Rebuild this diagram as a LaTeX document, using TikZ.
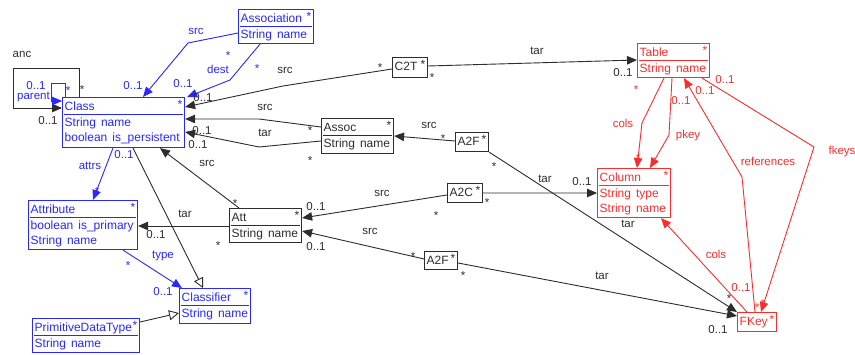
\documentclass[tikz,border=0pt]{standalone}
\usepackage{fontspec}
\setmainfont[WordSpace=1.5]{Liberation Sans}
\usetikzlibrary{arrows.meta,calc}

\definecolor{umlblue}{RGB}{40,40,255}
\definecolor{umlred}{RGB}{250,45,45}
\definecolor{umlink}{RGB}{45,45,45}

\tikzset{
  box/.style={draw=#1, line width=1.1pt, inner sep=0pt, anchor=north west, fill=white},
  txt/.style={inner sep=0pt, anchor=base west, font=\fontsize{12}{14}\selectfont},
  lbl/.style={inner sep=0pt, anchor=base, font=\fontsize{11.5}{14}\selectfont},
  link/.style={line width=0.9pt, draw=#1},
  nav/.style={-{Triangle[length=10pt,width=8.5pt]}},
  gen/.style={-{Triangle[open,length=10pt,width=10pt,fill=white]}},
}

% class with a name compartment and a list of attributes
\newcommand{\umlclass}[8]{%
  \node[box=#2, minimum width=#5pt, minimum height=#6pt] (#1) at (#3,#4) {};
  \node[txt, text=#2] (#1-t) at ($(#1.north west)+(2.5,14)$) {#7};
  \node[txt, text=#2, anchor=base east] (#1-s) at ($(#1.north east)+(-2.5,11.5)$) {*};
  \draw[#2, line width=0.9pt] ($(#1.north west)+(2,17.5)$) -- ($(#1.north east)+(-2,17.5)$);
  \foreach \attr [count=\i] in {#8} {
    \node[txt, text=#2] (#1-a\i) at ($(#1.north west)+(2.5,{15+15*\i})$) {\attr};
  }
}
% class shown with its name only
\newcommand{\umlplain}[7]{%
  \node[box=#2, minimum width=#5pt, minimum height=#6pt] (#1) at (#3,#4) {};
  \node[txt, text=#2] (#1-t) at ($(#1.north west)+(2.5,14)$) {#7};
  \node[txt, text=#2, anchor=base east] (#1-s) at ($(#1.north east)+(-2.5,11.5)$) {*};
}
% role names and multiplicities
\newcommand{\lab}[5]{\node[lbl, text=#2] (#1) at (#3,#4) {#5};}

\begin{document}
\begin{tikzpicture}[x=1pt,y=-1pt]
\useasboundingbox (0,0) rectangle (855,355);
\fill[white] (0,0) rectangle (855,355);

% ---- classes ----
\umlclass{class}{umlblue}{62}{97}{122}{50}{Class}{String name,boolean is\_persistent}
\umlclass{association}{umlblue}{238}{9}{75}{34}{Association}{String name}
\umlclass{attribute}{umlblue}{28}{200}{109}{49}{Attribute}{boolean is\_primary,String name}
\umlclass{classifier}{umlblue}{179}{288}{71}{35}{Classifier}{String name}
\umlclass{pdt}{umlblue}{32}{318}{107}{34}{PrimitiveDataType}{String name}
\umlclass{att}{umlink}{229}{208}{72}{34}{Att}{String name}
\umlclass{assoc}{umlink}{321}{118}{72}{35}{Assoc}{String name}
\umlplain{c2t}{umlink}{392}{57}{35}{20}{C2T}
\umlplain{a2ftop}{umlink}{455}{132}{33}{19}{A2F}
\umlplain{a2c}{umlink}{447}{183}{35}{19}{A2C}
\umlplain{a2fbot}{umlink}{424}{251}{33}{18}{A2F}
\umlclass{table}{umlred}{637}{43}{72}{34}{Table}{String name}
\umlclass{column}{umlred}{597}{168}{73}{49}{Column}{String type,String name}
\umlplain{fkey}{umlred}{737}{312}{39}{19}{FKey}

% ---- self associations of Class ----
\draw[link=umlink, nav] ($(class.north west)+(17,0)$) |- (13,68) |- ($(class.north west)+(0,11)$);
\draw[link=umlblue, nav] ($(class.north west)+(3,0)$) |- (51,83) |- ($(class.north west)+(0,4)$);

% ---- metamodel associations ----
\draw[link=umlblue, nav] ($(association.north west)+(0,24)$) -- (188,43) -- ($(class.north west)+(81,0)$);
\draw[link=umlblue, nav] ($(association.south west)+(22,0)$) -- (230,80) -- ($(class.north east)+(2,0)$);
\draw[link=umlblue, nav] ($(class.south west)+(51,0)$) -- ($(attribute.north west)+(65,0)$);
\draw[link=umlblue, nav] ($(attribute.south west)+(95,0)$) -- ($(classifier.north west)+(3,0)$);
\draw[link=umlink, gen] ($(class.south west)+(71,0)$) -- ($(classifier.north west)+(24,0)$);
\draw[link=umlink, gen] ($(pdt.north east)+(0,4)$) -- ($(classifier.north west)+(0,25)$);

% ---- trace classes ----
\draw[link=umlink, nav] ($(c2t.north west)+(0,12)$) -- (283,86) -- ($(class.north east)+(0,10)$);
\draw[link=umlink, nav] ($(c2t.north east)+(0,9)$) -- ($(table.north west)+(0,17)$);
\draw[link=umlink, nav] ($(assoc.north west)+(0,9)$) -- (259,119) -- ($(class.north east)+(0,22)$);
\draw[link=umlink, nav] ($(assoc.north west)+(0,23)$) -- (259,147) -- ($(class.north east)+(0,35)$);
\draw[link=umlink, nav] ($(a2ftop.north west)+(0,9)$) -- ($(assoc.north east)+(0,18)$);
\draw[link=umlink, nav] (a2ftop.south east) -- (fkey.north west);
\draw[link=umlink, nav] (a2c.east) -- ($(column.north west)+(0,25)$);
\draw[link=umlink, nav] ($(a2c.north west)+(0,12)$) -- ($(att.north east)+(0,10)$);
\draw[link=umlink, nav] ($(a2fbot.north west)+(0,8)$) -- ($(att.north east)+(0,23)$);
\draw[link=umlink, nav] ($(a2fbot.north east)+(0,12)$) -- ($(fkey.north west)+(0,4)$);
\draw[link=umlink, nav] ($(att.north west)+(10,0)$) -- ($(class.south west)+(98,0)$);
\draw[link=umlink, nav] ($(att.north west)+(0,18)$) -- ($(attribute.north east)+(0,26)$);

% ---- relational side ----
\draw[link=umlred, nav] ($(table.south west)+(27,0)$) -- (642,123) -- ($(column.north west)+(40,0)$);
\draw[link=umlred, nav] ($(table.south west)+(35,0)$) -- (669,135) -- ($(column.north west)+(53,0)$);
\draw[link=umlred, nav] ($(fkey.north west)+(18,0)$) -- (742,177) -- ($(table.south west)+(47,0)$);
\draw[link=umlred, nav] ($(table.south west)+(65,0)$) -- (814,147) -- ($(fkey.north west)+(24,0)$);
\draw[link=umlred, nav] ($(fkey.north west)+(10,0)$) -- ($(column.south west)+(64,0)$);

% ---- labels: blue ----
\lab{parent-m}{umlblue}{36}{90}{0..1}
\lab{parent-r}{umlblue}{33.5}{100}{parent}
\lab{parent-s}{umlblue}{68}{95}{*}
\lab{src-r}{umlblue}{196}{35}{src}
\lab{src-m}{umlblue}{133}{90}{0..1}
\lab{src-s}{umlblue}{228}{60}{*}
\lab{dest-r}{umlblue}{218}{74}{dest}
\lab{dest-s}{umlblue}{257}{73}{*}
\lab{dest-m}{umlblue}{183}{88}{0..1}
\lab{attrs-r}{umlblue}{90}{170}{attrs}
\lab{attrs-m}{umlblue}{124}{159}{0..1}
\lab{attrs-s}{umlblue}{97}{196}{*}
\lab{type-r}{umlblue}{163}{259}{type}
\lab{type-s}{umlblue}{128}{270}{*}
\lab{type-m}{umlblue}{163}{296}{0..1}

% ---- labels: black ----
\lab{anc-r}{umlink}{22}{58}{anc}
\lab{anc-s}{umlink}{82}{94}{*}
\lab{anc-m}{umlink}{48}{125}{0..1}
\lab{c2t-src}{umlink}{285}{74}{src}
\lab{c2t-src-m}{umlink}{203}{102}{0..1}
\lab{c2t-src-s}{umlink}{380}{72}{*}
\lab{c2t-tar}{umlink}{537}{55}{tar}
\lab{c2t-tar-s}{umlink}{432}{82}{*}
\lab{c2t-tar-m}{umlink}{623}{77}{0..1}
\lab{assoc-src}{umlink}{265}{111}{src}
\lab{assoc-src-s}{umlink}{310}{135}{*}
\lab{assoc-tar}{umlink}{265}{137}{tar}
\lab{assoc-src-m}{umlink}{202}{135}{0..1}
\lab{assoc-tar-m}{umlink}{198}{149}{0..1}
\lab{assoc-tar-s}{umlink}{310}{165}{*}
\lab{a2f-src}{umlink}{429}{129}{src}
\lab{a2f-src-s}{umlink}{443}{143}{*}
\lab{a2f-tar-s}{umlink}{494}{171}{*}
\lab{a2c-tar}{umlink}{545}{183}{tar}
\lab{a2c-tar-m}{umlink}{582}{186}{0..1}
\lab{a2c-tar-s}{umlink}{487}{207}{*}
\lab{a2c-src}{umlink}{382}{197}{src}
\lab{a2c-src-m}{umlink}{316}{211}{0..1}
\lab{a2c-src-s}{umlink}{436}{220}{*}
\lab{a2fb-src}{umlink}{370}{235}{src}
\lab{a2fb-src-m}{umlink}{316}{251}{0..1}
\lab{a2fb-src-s}{umlink}{413}{261}{*}
\lab{a2fb-tar-s}{umlink}{463}{280}{*}
\lab{a2f-tar}{umlink}{628}{228}{tar}
\lab{a2fb-tar}{umlink}{602}{280}{tar}
\lab{a2f-tar-e}{umlink}{729}{303}{*}
\lab{a2fb-tar-m}{umlink}{718}{334}{0..1}
\lab{att-src}{umlink}{207}{167}{src}
\lab{att-src-s}{umlink}{235}{208}{*}
\lab{att-tar}{umlink}{185}{218}{tar}
\lab{att-tar-m}{umlink}{156}{239}{0..1}
\lab{att-tar-s}{umlink}{218}{250}{*}

% ---- labels: red ----
\lab{cols-s}{umlred}{636}{94}{*}
\lab{cols-r}{umlred}{623}{128}{cols}
\lab{cols-e}{umlred}{638}{163}{*}
\lab{pkey-m}{umlred}{681}{105}{0..1}
\lab{pkey-r}{umlred}{688}{139}{pkey}
\lab{pkey-e}{umlred}{654}{166}{*}
\lab{ref-m}{umlred}{705}{95}{0..1}
\lab{fkeys-m}{umlred}{725}{84}{0..1}
\lab{ref-r}{umlred}{768}{166}{references}
\lab{fkeys-r}{umlred}{842}{155}{fkeys}
\lab{fcols-r}{umlred}{716}{259}{cols}
\lab{fcols-m}{umlred}{741}{292}{0..1}
\lab{ref-s}{umlred}{757}{312}{*}
\lab{fkeys-s}{umlred}{763}{308}{*}
\end{tikzpicture}
\end{document}
